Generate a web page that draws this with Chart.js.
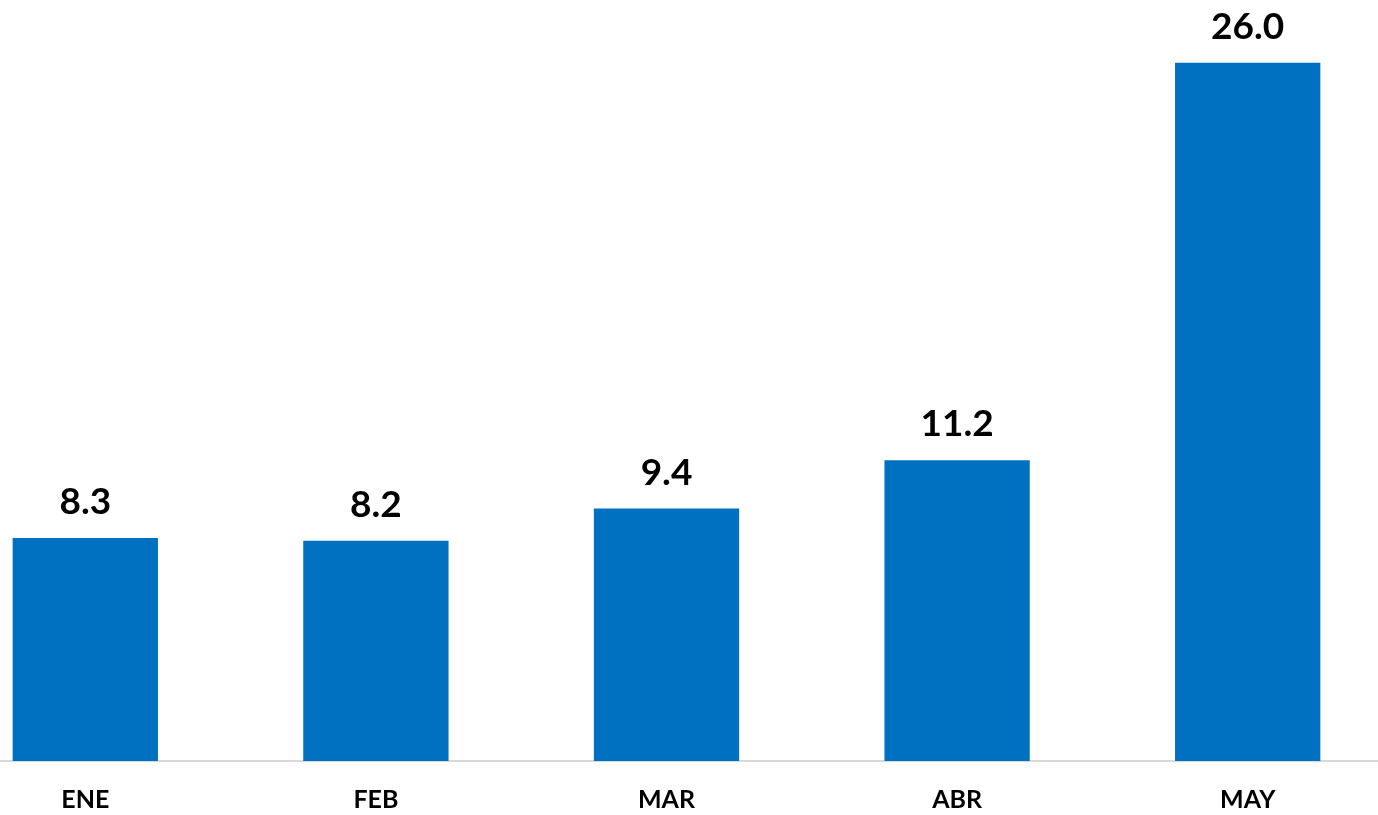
<!DOCTYPE html>
<html>
<head>
<meta charset="utf-8">
<script src="https://cdn.jsdelivr.net/npm/chart.js@4"></script>
<style>
  html, body { margin: 0; padding: 0; background: #fff; overflow: hidden; }
  #wrap { position: absolute; left: -60px; top: 0; width: 1453px; height: 841px; }
</style>
</head>
<body>
<div id="wrap"><canvas id="myChart"></canvas></div>
<script>
// chart data
const months = ['ENE', 'FEB', 'MAR', 'ABR', 'MAY'];
const values = [8.3, 8.2, 9.4, 11.2, 26.0];

// draws the value above each bar
const valueLabels = {
    id: 'valueLabels',
    afterDatasetsDraw(chart) {
        const ctx = chart.ctx;
        const meta = chart.getDatasetMeta(0);
        ctx.save();
        ctx.font = 'bold 37px Lato';
        ctx.fillStyle = '#000';
        ctx.textAlign = 'center';
        ctx.textBaseline = 'alphabetic';
        meta.data.forEach(function (bar, i) {
            ctx.fillText(values[i].toFixed(1), bar.x, bar.y - 24);
        });
        ctx.restore();
    }
};

function initializeChart() {
    const ctx = document.getElementById('myChart').getContext('2d');
    return new Chart(ctx, {
        type: 'bar',
        data: {
            labels: months,
            datasets: [{
                data: values,
                backgroundColor: '#0070C0',
                barPercentage: 0.5,
                categoryPercentage: 1.0,
            }]
        },
        options: {
            responsive: true,
            maintainAspectRatio: false,
            animation: false,
            layout: { padding: { top: 9, bottom: 2, left: 0, right: 0 } },
            plugins: {
                legend: { display: false },
                tooltip: { enabled: false }
            },
            scales: {
                x: {
                    grid: { display: false, drawTicks: false },
                    border: { display: true, color: '#d9d9d9', width: 2 },
                    ticks: {
                        color: '#000',
                        padding: 24,
                        font: { family: 'Lato', size: 25, weight: 'bold' }
                    }
                },
                y: {
                    display: false,
                    min: 0,
                    max: 28
                }
            }
        },
        plugins: [valueLabels]
    });
}

let myChart = initializeChart();
</script>
</body>
</html>
